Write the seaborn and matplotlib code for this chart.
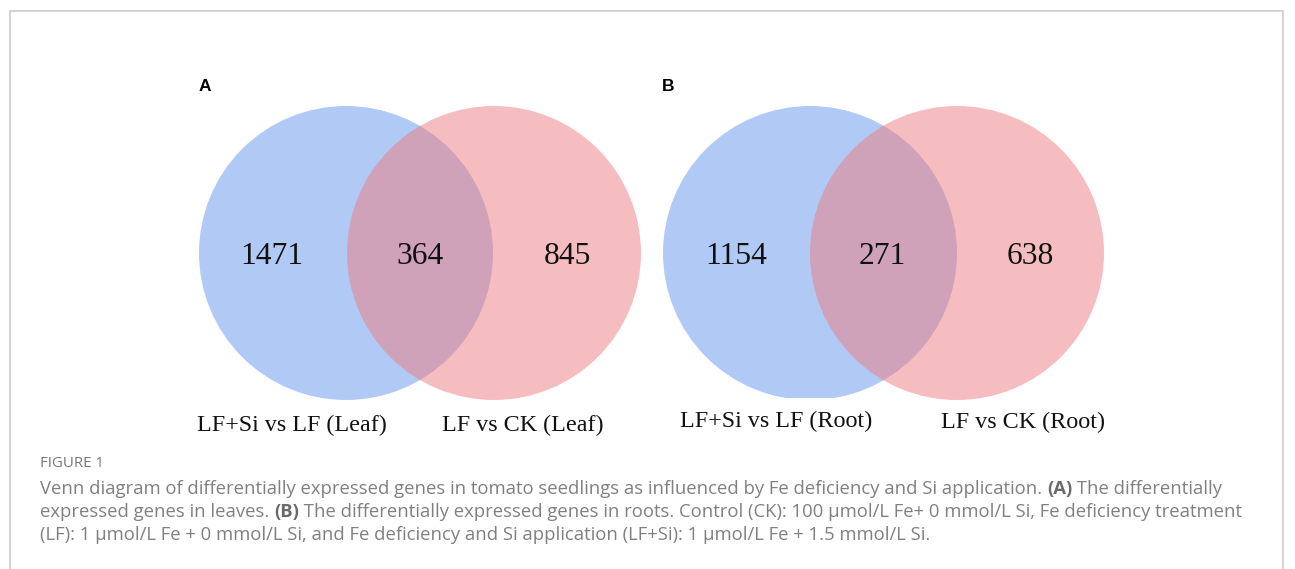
import matplotlib
matplotlib.use("Agg")
import matplotlib.pyplot as plt
from matplotlib.patches import Circle, Rectangle
import seaborn as sns

# ---- data ----
panels = ["A", "B"]
left_only = [1471, 1154]
shared = [364, 271]
right_only = [845, 638]
left_labels = ["LF+Si vs LF (Leaf)", "LF+Si vs LF (Root)"]
right_labels = ["LF vs CK (Leaf)", "LF vs CK (Root)"]

caption_title = "FIGURE 1"
caption_lines = [
    [("Venn diagram of differentially expressed genes in tomato seedlings as influenced by Fe deficiency and Si application. ", "normal"),
     ("(A)", "bold"), (" The differentially", "normal")],
    [("expressed genes in leaves. ", "normal"), ("(B)", "bold"),
     (" The differentially expressed genes in roots. Control (CK): 100 \u03bcmol/L Fe+ 0 mmol/L Si, Fe deficiency treatment", "normal")],
    [("(LF): 1 \u03bcmol/L Fe + 0 mmol/L Si, and Fe deficiency and Si application (LF+Si): 1 \u03bcmol/L Fe + 1.5 mmol/L Si.", "normal")],
]

sns.set_theme(style="white")
blue = sns.color_palette(["#6495ED"])[0]
red = sns.color_palette(["#ED7D81"])[0]

W, H = 1295, 569
fig = plt.figure(figsize=(W / 100, H / 100), dpi=100)
ax = fig.add_axes([0, 0, 1, 1])
ax.set_xlim(0, W)
ax.set_ylim(H, 0)
ax.axis("off")

# border
ax.plot([10, 10, 1283, 1283], [569, 11, 11, 569], color="#cccccc", lw=1.2)

serif = ["Liberation Serif", "DejaVu Serif"]
sans = ["Open Sans", "DejaVu Sans"]

layout = [
    dict(cx1=346, cx2=494, cy=253, r=147, lab=(205, 86), nums=(272, 420, 567), ny=256,
         l1=(292, 425), l2=(523, 425), clip=None),
    dict(cx1=810, cx2=957, cy=253, r=147, lab=(668, 86), nums=(736, 882, 1030), ny=256,
         l1=(776, 421), l2=(1023, 422), clip=398),
]

for i, L in enumerate(layout):
    c1 = Circle((L["cx1"], L["cy"]), L["r"], facecolor=blue, alpha=0.5, edgecolor="none", zorder=2)
    ax.add_patch(c1)
    if L["clip"] is not None:
        rect = Rectangle((0, 0), W, L["clip"], transform=ax.transData)
        c1.set_clip_path(rect)
    c2 = Circle((L["cx2"], L["cy"]), L["r"], facecolor=red, alpha=0.5, edgecolor="none", zorder=3)
    ax.add_patch(c2)
    ax.text(*L["lab"], panels[i], fontsize=12.5, fontweight="bold", family=["Liberation Sans", "DejaVu Sans"],
            ha="center", va="center", color="black", zorder=5)
    for x, v in zip(L["nums"], [left_only[i], shared[i], right_only[i]]):
        ax.text(x, L["ny"], str(v), fontsize=22.7, family=serif, ha="center", va="center", color="#111111", zorder=5)
    ax.text(*L["l1"], left_labels[i], fontsize=17.4, family=serif, ha="center", va="center", color="#111111", zorder=5)
    ax.text(*L["l2"], right_labels[i], fontsize=17.4, family=serif, ha="center", va="center", color="#111111", zorder=5)

# caption
ax.text(40, 463, caption_title, fontsize=10.8, family=sans, color="#777777", ha="left", va="center")
ys = [489, 512, 535]
fig.canvas.draw()
renderer = fig.canvas.get_renderer()
for y, parts in zip(ys, caption_lines):
    x = 40
    for txt, wt in parts:
        t = ax.text(x, y, txt, fontsize=13.3, family=sans, fontweight=wt,
                    color="#808080" if wt == "normal" else "#6a6a6a", ha="left", va="center")
        bb = t.get_window_extent(renderer=renderer)
        x += bb.width * (W / fig.bbox.width)

fig.savefig("out.png", dpi=100)
